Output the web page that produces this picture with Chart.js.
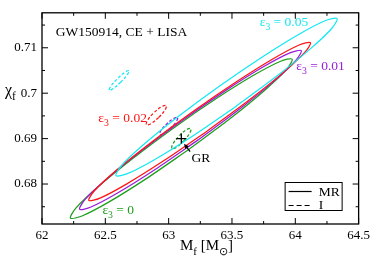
<!DOCTYPE html>
<html><head><meta charset="utf-8">
<script src="https://cdn.jsdelivr.net/npm/chart.js@4/dist/chart.umd.min.js"></script>
<style>html,body{margin:0;padding:0;background:#fff}#wrap{width:374px;height:256px;position:relative}</style>
</head><body><div id="wrap"><canvas id="c"></canvas></div>
<script>
// ---- axis ticks ----
const xTickValues = [62, 62.5, 63, 63.5, 64, 64.5];
const xMinorValues = [62.25, 62.75, 63.25, 63.75, 64.25];
const yTickValues = [0.68, 0.69, 0.70, 0.71];
const yMinorValues = [0.675, 0.685, 0.695, 0.705, 0.715];

// ---- MR (solid) contours, eps3 = 0, 0.01, 0.02, 0.05 ----
const mrEps0_Mf  = [63.1635,62.8238,62.5262,62.3159,62.2250,62.2673,62.4364,62.7064,63.0365,63.3762,63.6738,63.8841,63.9750,63.9327,63.7636,63.4936,63.1635];
const mrEps0_chi = [0.68771,0.68119,0.67601,0.67296,0.67250,0.67471,0.67925,0.68542,0.69229,0.69881,0.70399,0.70704,0.70750,0.70529,0.70076,0.69458,0.68771];
const mrEps001_Mf  = [63.2326,62.8931,62.5962,62.3868,62.2970,62.3404,62.5104,62.7811,63.1114,63.4509,63.7478,63.9572,64.0470,64.0036,63.8336,63.5629,63.2326];
const mrEps001_chi = [0.68972,0.68321,0.67802,0.67494,0.67445,0.67662,0.68111,0.68725,0.69410,0.70062,0.70581,0.70888,0.70937,0.70720,0.70271,0.69657,0.68972];
const mrEps002_Mf  = [63.3025,62.9632,62.6668,62.4583,62.3695,62.4139,62.5848,62.8560,63.1865,63.5258,63.8222,64.0307,64.1195,64.0751,63.9042,63.6330,63.3025];
const mrEps002_chi = [0.69164,0.68516,0.67998,0.67690,0.67639,0.67852,0.68297,0.68906,0.69586,0.70234,0.70752,0.71060,0.71111,0.70898,0.70453,0.69845,0.69164];
const mrEps005_Mf  = [63.5197,63.1809,62.8842,62.6747,62.5843,62.6267,62.7956,63.0651,63.3943,63.7331,64.0298,64.2393,64.3297,64.2873,64.1184,63.8489,63.5197];
const mrEps005_chi = [0.69686,0.69041,0.68530,0.68228,0.68184,0.68403,0.68852,0.69463,0.70142,0.70787,0.71299,0.71600,0.71644,0.71425,0.70976,0.70366,0.69686];

// ---- I (dashed) contours ----
const iEps0_Mf  = [63.1203,63.0619,63.0258,63.0331,63.0797,63.1381,63.1742,63.1669,63.1203];
const iEps0_chi = [0.68951,0.68810,0.68780,0.68879,0.69049,0.69191,0.69220,0.69121,0.68951];
const iEps001_Mf  = [63.0166,62.9620,62.9297,62.9386,62.9834,63.0380,63.0703,63.0614,63.0166];
const iEps001_chi = [0.69231,0.69110,0.69086,0.69173,0.69319,0.69440,0.69464,0.69377,0.69231];
const iEps002_Mf  = [62.9216,62.8607,62.8242,62.8335,62.8830,62.9439,62.9804,62.9711,62.9216];
const iEps002_chi = [0.69464,0.69331,0.69306,0.69404,0.69568,0.69701,0.69726,0.69628,0.69464];
const iEps005_Mf  = [62.6230,62.5637,62.5309,62.5439,62.5950,62.6543,62.6871,62.6741,62.6230];
const iEps005_chi = [0.70245,0.70103,0.70065,0.70154,0.70318,0.70460,0.70497,0.70408,0.70245];

// ---- GR point ----
const grMf = [63.10];
const grChi = [0.6900];

// ---- text ----
const titleText = 'GW150914, CE + LISA';
const epsLabels = ['0', '0.01', '0.02', '0.05'];
const legendLabels = ['MR', 'I'];

const SERIF = '"Liberation Serif","Times New Roman",serif';
const C_GREEN = '#1e9e1e', C_PURPLE = '#9a1ed8', C_RED = '#ff1414', C_CYAN = '#14e8f2';

function pts(xs, ys) { return xs.map((x, i) => ({ x: x, y: ys[i] })); }
function contour(xs, ys, color, dashed) {
  return { data: pts(xs, ys), showLine: true, pointRadius: 0, borderColor: color,
    borderWidth: 1.25, tension: dashed ? 0.4 : 0.3, fill: false,
    borderDash: dashed ? [3, 2] : [] };
}

function rich(ctx, parts, x, y, size, color) {
  let cx = x;
  ctx.fillStyle = color;
  ctx.textBaseline = 'alphabetic';
  ctx.textAlign = 'left';
  parts.forEach(p => {
    const s = p.sub ? size * 0.72 : size;
    ctx.font = s + 'px ' + SERIF;
    ctx.fillText(p.t, cx, y + (p.sub ? size * 0.3 : 0));
    cx += ctx.measureText(p.t).width;
  });
}

const deco = {
  id: 'deco',
  afterDraw(chart) {
    const { ctx, chartArea: a, scales: { x, y } } = chart;
    ctx.save();
    ctx.strokeStyle = '#000';
    ctx.lineWidth = 1.3;
    ctx.strokeRect(a.left, a.top, a.right - a.left, a.bottom - a.top);
    ctx.beginPath();
    const tick = (vals, len) => {
      vals.forEach(v => {
        const px = x.getPixelForValue(v);
        ctx.moveTo(px, a.bottom); ctx.lineTo(px, a.bottom - len);
        ctx.moveTo(px, a.top); ctx.lineTo(px, a.top + len);
      });
    };
    const ticky = (vals, len) => {
      vals.forEach(v => {
        const py = y.getPixelForValue(v);
        ctx.moveTo(a.left, py); ctx.lineTo(a.left + len, py);
        ctx.moveTo(a.right, py); ctx.lineTo(a.right - len, py);
      });
    };
    tick(xTickValues, 6); tick(xMinorValues, 3);
    ticky(yTickValues, 6); ticky(yMinorValues, 3);
    ctx.lineWidth = 1;
    ctx.stroke();

    const X = v => x.getPixelForValue(v), Y = v => y.getPixelForValue(v);
    // title
    rich(ctx, [{ t: titleText }], X(62.109), Y(0.71266), 13.5, '#000');
    // epsilon labels
    const eps = (val, mx, cy, col) => rich(ctx, [{ t: 'ε' }, { t: '3', sub: true }, { t: ' = ' + val }], X(mx), Y(cy), 13.5, col);
    eps(epsLabels[3], 63.719, 0.71476, C_CYAN);
    eps(epsLabels[1], 64.008, 0.70512, C_PURPLE);
    eps(epsLabels[2], 62.445, 0.69369, C_RED);
    eps(epsLabels[0], 62.477, 0.67335, C_GREEN);
    // GR label + arrow
    rich(ctx, [{ t: 'GR' }], X(63.18), Y(0.68478), 13.5, '#000');
    const tx = X(63.1695), ty = Y(0.68715), hx = X(63.121), hy = Y(0.68887);
    const dx = hx - tx, dy = hy - ty, L = Math.hypot(dx, dy), ux = dx / L, uy = dy / L;
    ctx.beginPath(); ctx.moveTo(tx, ty); ctx.lineTo(hx - ux * 3, hy - uy * 3);
    ctx.lineWidth = 1.2; ctx.strokeStyle = '#000'; ctx.stroke();
    ctx.beginPath(); ctx.moveTo(hx, hy);
    ctx.lineTo(hx - ux * 5 + uy * 2.2, hy - uy * 5 - ux * 2.2);
    ctx.lineTo(hx - ux * 5 - uy * 2.2, hy - uy * 5 + ux * 2.2);
    ctx.closePath(); ctx.fillStyle = '#000'; ctx.fill();

    // legend box
    const bx = a.right - 74, by = a.bottom - 42;
    ctx.lineWidth = 1; ctx.strokeStyle = '#000';
    ctx.strokeRect(bx + 0.5, by + 0.5, 57, 28);
    ctx.beginPath(); ctx.moveTo(bx + 4, by + 9.5); ctx.lineTo(bx + 27, by + 9.5);
    ctx.lineWidth = 1.2; ctx.stroke();
    ctx.beginPath(); ctx.setLineDash([5, 3]); ctx.moveTo(bx + 4, by + 23.5); ctx.lineTo(bx + 28, by + 23.5);
    ctx.stroke(); ctx.setLineDash([]);
    rich(ctx, [{ t: legendLabels[0] }], bx + 34, by + 14, 13.5, '#000');
    rich(ctx, [{ t: legendLabels[1] }], bx + 34, by + 27, 13.5, '#000');

    // axis titles
    rich(ctx, [{ t: 'χ' }, { t: 'f', sub: true }], 5, Y(0.6995), 16, '#000');
    rich(ctx, [{ t: 'M' }, { t: 'f', sub: true }, { t: ' [M' }, { t: '⊙', sub: true }, { t: ']' }], 180, 250, 15, '#000');
    ctx.restore();
  }
};

new Chart(document.getElementById('c'), {
  type: 'scatter',
  data: {
    datasets: [
      { data: pts(grMf, grChi), pointStyle: 'cross', pointRadius: 5, borderColor: '#000', borderWidth: 1.3, showLine: false },
      contour(mrEps005_Mf, mrEps005_chi, C_CYAN, false),
      contour(mrEps002_Mf, mrEps002_chi, C_RED, false),
      contour(mrEps001_Mf, mrEps001_chi, C_PURPLE, false),
      contour(mrEps0_Mf, mrEps0_chi, C_GREEN, false),
      contour(iEps005_Mf, iEps005_chi, C_CYAN, true),
      contour(iEps002_Mf, iEps002_chi, C_RED, true),
      contour(iEps001_Mf, iEps001_chi, C_PURPLE, true),
      contour(iEps0_Mf, iEps0_chi, C_GREEN, true)
    ]
  },
  options: {
    responsive: true, maintainAspectRatio: false, animation: false,
    layout: { padding: { left: 0, right: 12, top: 2, bottom: 0 } },
    plugins: { legend: { display: false }, tooltip: { enabled: false } },
    scales: {
      x: {
        type: 'linear', min: 62, max: 64.5,
        afterFit(s) { s.height = 32; },
        afterBuildTicks(s) { s.ticks = xTickValues.map(v => ({ value: v })); },
        grid: { display: false, drawTicks: false }, border: { display: false },
        ticks: { padding: 4, color: '#000', font: { family: SERIF, size: 13 }, maxRotation: 0, autoSkip: false,
          callback: v => String(+(+v).toFixed(1)) }
      },
      y: {
        type: 'linear', min: 0.6712, max: 0.7177,
        afterFit(s) { s.width = 42; },
        afterBuildTicks(s) { s.ticks = yTickValues.map(v => ({ value: v })); },
        grid: { display: false, drawTicks: false }, border: { display: false },
        ticks: { padding: 5, color: '#000', font: { family: SERIF, size: 13 }, autoSkip: false,
          callback: v => String(+(+v).toFixed(2)) }
      }
    }
  },
  plugins: [deco]
});
</script></body></html>
